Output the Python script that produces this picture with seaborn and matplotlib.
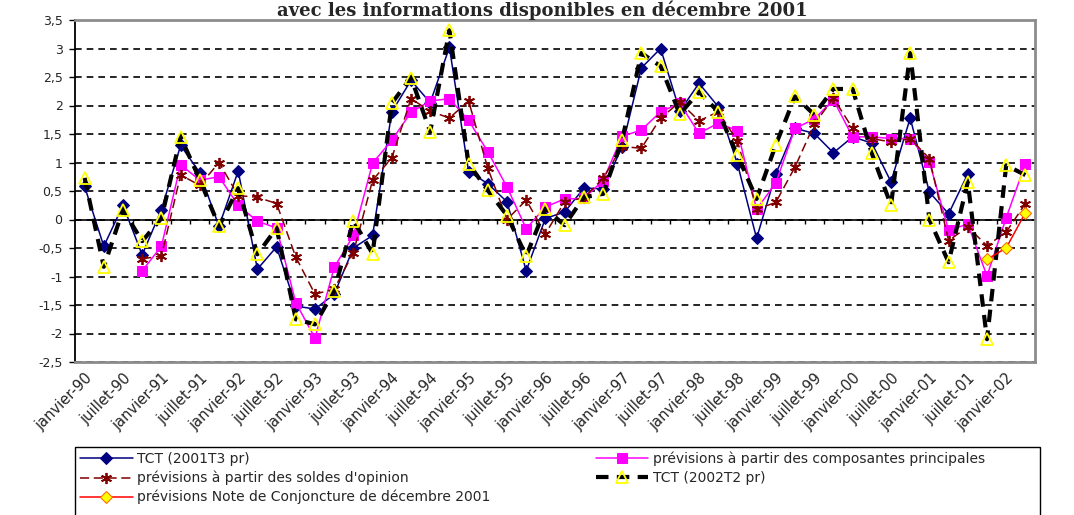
import numpy as np
import pandas as pd
import seaborn as sns
import matplotlib.pyplot as plt
from matplotlib.patches import Rectangle

# -----------------------------------------
# Data: quarterly series, 1990T1 .. 2002T2 (50 quarters)
# -----------------------------------------
n_quarters = 50

tick_labels = [
    "janvier-90", "juillet-90", "janvier-91", "juillet-91", "janvier-92",
    "juillet-92", "janvier-93", "juillet-93", "janvier-94", "juillet-94",
    "janvier-95", "juillet-95", "janvier-96", "juillet-96", "janvier-97",
    "juillet-97", "janvier-98", "juillet-98", "janvier-99", "juillet-99",
    "janvier-00", "juillet-00", "janvier-01", "juillet-01", "janvier-02",
]

# TCT (2001T3 pr): 1990T1 .. 2001T3
tct_2001 = [
    0.58, -0.47, 0.25, -0.62, 0.17, 1.30, 0.82, -0.12, 0.85, -0.87,
    -0.48, -1.52, -1.57, -1.31, -0.50, -0.28, 1.89, 2.44, 2.05, 3.02,
    0.84, 0.63, 0.31, -0.90, 0.02, 0.13, 0.55, 0.54, 1.28, 2.66,
    3.00, 1.90, 2.39, 1.98, 0.98, -0.33, 0.80, 1.60, 1.51, 1.17,
    1.45, 1.34, 0.66, 1.78, 0.48, 0.10, 0.80,
]

# TCT (2002T2 pr): 1990T1 .. 2002T2
tct_2002 = [
    0.73, -0.83, 0.17, -0.38, 0.02, 1.45, 0.70, -0.12, 0.55, -0.61,
    -0.15, -1.75, -1.84, -1.25, -0.02, -0.60, 2.04, 2.49, 1.54, 3.32,
    0.98, 0.51, 0.07, -0.64, 0.19, -0.10, 0.39, 0.45, 1.40, 2.92,
    2.69, 1.85, 2.24, 1.89, 1.13, 0.36, 1.31, 2.16, 1.84, 2.29,
    2.29, 1.16, 0.25, 2.92, 0.00, -0.75, 0.66, -2.10, 0.95, 0.78,
]

# prévisions à partir des composantes principales: 1990T4 .. 2002T2
prev_composantes = [
    -0.90, -0.47, 0.96, 0.69, 0.75, 0.25, -0.03, -0.15, -1.46, -2.08,
    -0.84, -0.28, 0.99, 1.39, 1.88, 2.08, 2.12, 1.74, 1.19, 0.57,
    -0.16, 0.22, 0.36, 0.37, 0.68, 1.46, 1.57, 1.89, 2.04, 1.51,
    1.69, 1.56, 0.18, 0.64, 1.60, 1.76, 2.10, 1.45, 1.45, 1.42,
    1.42, 1.01, -0.19, -0.08, -0.99, 0.03, 0.98,
]

# prévisions à partir des soldes d'opinion: 1990T4 .. 2002T2
prev_soldes = [
    -0.69, -0.64, 0.78, 0.60, 1.00, 0.42, 0.39, 0.28, -0.66, -1.31,
    -1.22, -0.58, 0.69, 1.08, 2.12, 1.90, 1.78, 2.08, 0.90, 0.00,
    0.34, -0.25, 0.31, 0.38, 0.72, 1.28, 1.25, 1.78, 2.06, 1.73,
    1.89, 1.38, 0.18, 0.30, 0.92, 1.67, 2.13, 1.60, 1.42, 1.36,
    1.42, 1.07, -0.37, -0.13, -0.46, -0.22, 0.28,
]

# prévisions Note de Conjoncture de décembre 2001: 2001T4 .. 2002T2
prev_note = [-0.70, -0.50, 0.12]

# -----------------------------------------
# Figure
# -----------------------------------------
sns.set_theme(style="white")
plt.rcParams["font.family"] = ["DejaVu Sans"]

W, H = 1074, 515
fig = plt.figure(figsize=(W / 100, H / 100), dpi=100)
ax = fig.add_axes([75 / W, 153 / H, 960 / W, 342 / H])

x_all = np.arange(n_quarters)

def series(values, start):
    return pd.DataFrame({"x": x_all[start:start + len(values)], "y": values})

sns.lineplot(data=series(tct_2001, 0), x="x", y="y", ax=ax, color="#000080",
             lw=1.1, marker="D", markersize=6.5, markerfacecolor="#000080",
             markeredgecolor="#000080", label="TCT (2001T3 pr)")
sns.lineplot(data=series(prev_composantes, 3), x="x", y="y", ax=ax, color="#FF00FF",
             lw=1.1, marker="s", markersize=7.5, markerfacecolor="#FF00FF",
             markeredgecolor="#FF00FF",
             label="prévisions à partir des composantes principales")
sns.lineplot(data=series(prev_soldes, 3), x="x", y="y", ax=ax, color="#800000",
             lw=1.1, linestyle=(0, (6, 3)), marker=(6, 2, 0), markersize=8,
             markeredgewidth=1.3, markeredgecolor="#800000",
             label="prévisions à partir des soldes d'opinion")
sns.lineplot(data=series(tct_2002, 0), x="x", y="y", ax=ax, color="black",
             lw=3, linestyle=(0, (3, 2)), marker="^", markersize=8.5,
             markerfacecolor="none", markeredgecolor="#FFFF00", markeredgewidth=1.3,
             label="TCT (2002T2 pr)")
sns.lineplot(data=series(prev_note, 47), x="x", y="y", ax=ax, color="#FF0000",
             lw=1.1, marker="D", markersize=6.5, markerfacecolor="#FFFF00",
             markeredgecolor="#FF6600", label="prévisions Note de Conjoncture de décembre 2001")

if ax.get_legend() is not None:
    ax.get_legend().remove()

# axes
ax.set_xlim(-0.5, n_quarters - 0.5)
ax.set_ylim(-2.5, 3.5)
yt = np.arange(-2.5, 3.51, 0.5)
ax.set_yticks(yt)
ax.set_yticklabels([f"{v:g}".replace(".", ",") for v in yt], fontsize=9)
ax.set_xticks(x_all[::2])
ax.set_xticklabels(tick_labels, rotation=45, ha="right", va="top",
                   rotation_mode="anchor", fontsize=10.5)
ax.tick_params(axis="x", length=0, pad=6)
ax.tick_params(axis="y", length=4, width=1, color="black", left=True, pad=5)
ax.set_xlabel("")
ax.set_ylabel("")

ax.yaxis.grid(True, color="black", linestyle=(0, (4, 3)), lw=1.2)
ax.xaxis.grid(False)
ax.set_axisbelow(True)

# category axis crossing at 0, with category tick marks
ax.axhline(0, color="black", lw=1.2, zorder=1.5)
ax.vlines(np.arange(0.5, n_quarters - 0.5), -0.08, 0, color="black", lw=1, zorder=1.5)

for side in ["top", "right", "bottom"]:
    ax.spines[side].set_color("#8c8c8c")
    ax.spines[side].set_linewidth(2)
ax.spines["left"].set_color("black")
ax.spines["left"].set_linewidth(1.3)

# title
fig.text(0.505, 1 - 1 / H, "avec les informations disponibles en décembre 2001",
         ha="center", va="top", fontsize=13, fontweight="bold",
         family="DejaVu Serif")

# legend box (runs off the bottom edge, as in the source)
fig.patches.append(Rectangle((75 / W, -0.02), 965 / W, 0.02 + (H - 447) / H,
                             transform=fig.transFigure, facecolor="white",
                             edgecolor="black", lw=1, zorder=0))

# legend, filled row by row in 2 columns (matplotlib fills by column)
handles, labels = ax.get_legend_handles_labels()
order = [0, 2, 4, 1, 3]
fig.legend([handles[i] for i in order], [labels[i] for i in order], ncol=2,
           loc="upper left", bbox_to_anchor=(77 / W, 1 - 449 / H), fontsize=10,
           frameon=False, handlelength=3.8, handletextpad=0.3, columnspacing=7.6,
           labelspacing=0.33, borderpad=0.2, borderaxespad=0)

fig.savefig("out.png", dpi=100)
